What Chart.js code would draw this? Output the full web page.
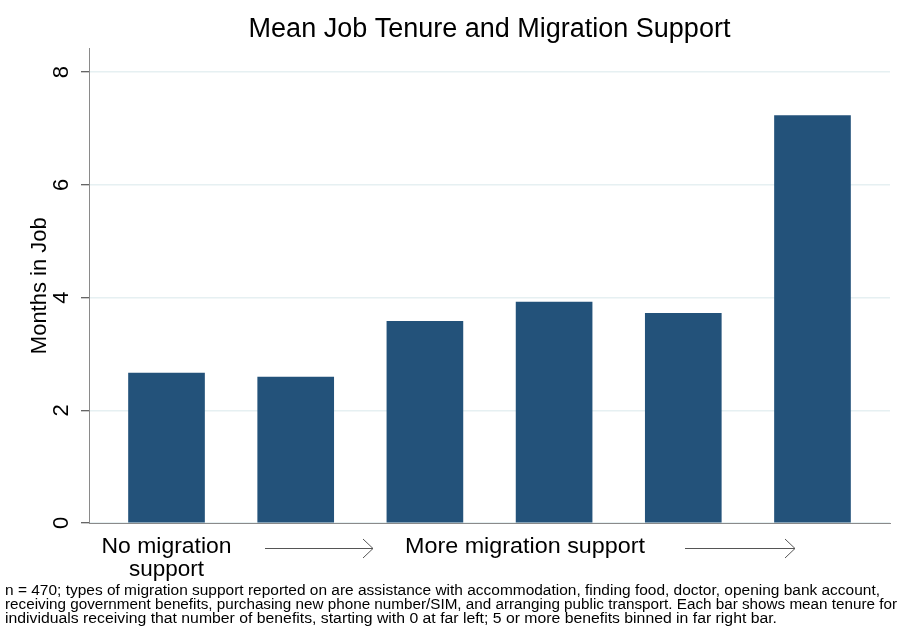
<!DOCTYPE html>
<html>
<head>
<meta charset="utf-8">
<script src="https://cdn.jsdelivr.net/npm/chart.js@4.4.1/dist/chart.umd.min.js"></script>
<style>
  html, body { margin: 0; padding: 0; background: #fff; }
  #wrap { width: 900px; height: 626px; position: relative; }
</style>
</head>
<body>
<div id="wrap"><canvas id="c" width="900" height="626"></canvas></div>
<script>
// ---- data ----
const categories = ["0", "1", "2", "3", "4", "5+"];
const meanTenure = [2.66, 2.59, 3.58, 3.92, 3.72, 7.23];
const yTicks = [0, 2, 4, 6, 8];
const titleText = "Mean Job Tenure and Migration Support";
const yTitle = "Months in Job";
const lowLabel = ["No migration", "support"];
const highLabel = "More migration support";
const noteLines = [
  "n = 470; types of migration support reported on are assistance with accommodation, finding food, doctor, opening bank account,",
  "receiving government benefits, purchasing new phone number/SIM, and arranging public transport. Each bar shows mean tenure for",
  "individuals receiving that number of benefits, starting with 0 at far left; 5 or more benefits binned in far right bar."
];

const FONT = "'Liberation Sans', Arial, Helvetica, sans-serif";
const BAR = '#23527a';

function fitText(ctx, text, x, y, size, targetWidth, align) {
  ctx.save();
  ctx.font = size + 'px ' + FONT;
  const w = ctx.measureText(text).width;
  const s = targetWidth / w;
  ctx.textBaseline = 'middle';
  ctx.textAlign = 'left';
  let left = align === 'center' ? x - targetWidth / 2 : x;
  ctx.translate(left, y);
  ctx.scale(s, 1);
  ctx.fillText(text, 0, 0);
  ctx.restore();
}

function arrow(ctx, x1, x2, y) {
  ctx.save();
  ctx.strokeStyle = '#555';
  ctx.lineWidth = 1;
  ctx.beginPath();
  ctx.moveTo(x1, y + 0.5);
  ctx.lineTo(x2, y + 0.5);
  ctx.moveTo(x2 - 10, y - 9);
  ctx.lineTo(x2, y + 0.5);
  ctx.lineTo(x2 - 10, y + 10);
  ctx.stroke();
  ctx.restore();
}

const annotations = {
  id: 'annotations',
  afterDraw(chart) {
    const ctx = chart.ctx;
    const xs = chart.scales.x;
    ctx.save();
    ctx.fillStyle = '#000';
    const c0 = xs.getPixelForValue(0);
    fitText(ctx, lowLabel[0], c0, 547, 22, 130, 'center');
    fitText(ctx, lowLabel[1], c0, 570, 22, 75, 'center');
    fitText(ctx, highLabel, 525, 547, 22, 240, 'center');
    arrow(ctx, 265, 373, 548);
    arrow(ctx, 685, 795, 548);
    const targets = [875, 892, 772];
    noteLines.forEach((t, i) => fitText(ctx, t, 5, 591 + i * 14, 14, targets[i], 'left'));
    ctx.restore();
  }
};

new Chart(document.getElementById('c'), {
  type: 'bar',
  data: {
    labels: categories,
    datasets: [{
      data: meanTenure.map((v, i) => ({ x: i, y: v })),
      backgroundColor: BAR,
      borderWidth: 0,
      barThickness: 76
    }]
  },
  options: {
    responsive: false,
    animation: false,
    devicePixelRatio: 1,
    layout: { padding: { top: 0, left: 0, right: 10, bottom: 0 } },
    plugins: {
      legend: { display: false },
      tooltip: { enabled: false },
      title: {
        display: true,
        text: titleText,
        fullSize: false,
        color: '#000',
        font: { family: FONT, size: 27, weight: 'normal' },
        padding: { top: 13, bottom: 3 }
      }
    },
    scales: {
      x: {
        type: 'linear',
        min: -0.6,
        max: 5.6,
        offset: false,
        grid: { display: false, drawTicks: false },
        border: { display: true, color: '#8a8a8a', width: 1 },
        ticks: { display: false },
        afterFit(s) { s.height = 103; }
      },
      y: {
        min: 0,
        max: 8.42,
        afterBuildTicks(s) { s.ticks = yTicks.map(v => ({ value: v })); },
        ticks: {
          stepSize: 2,
          includeBounds: false,
          minRotation: 90,
          maxRotation: 90,
          crossAlign: 'center',
          padding: 13,
          color: '#000',
          font: { family: FONT, size: 22 }
        },
        grid: {
          color: '#e6f0f2',
          lineWidth: 1.5,
          drawTicks: true,
          tickLength: 8,
          tickColor: '#333',
          tickWidth: 1
        },
        border: { display: true, color: '#8a8a8a', width: 1 },
        title: {
          display: true,
          text: yTitle,
          color: '#000',
          font: { family: FONT, size: 22 },
          padding: { top: 27, bottom: 0 }
        },
        afterFit(s) { s.width = 89; }
      }
    }
  },
  plugins: [annotations]
});
</script>
</body>
</html>
